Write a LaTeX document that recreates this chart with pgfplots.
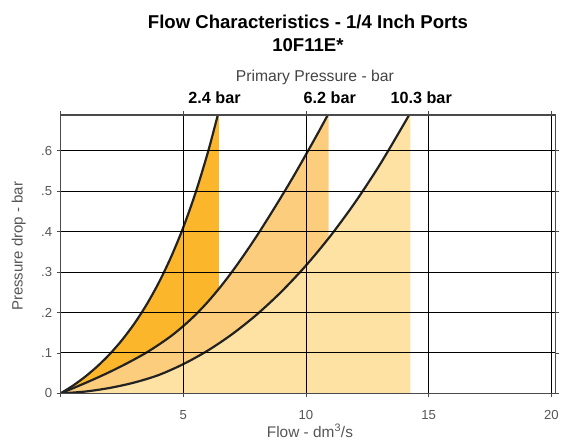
\documentclass[border=0pt]{standalone}
\usepackage{pgfplots}
\pgfplotsset{compat=1.18}
\usepackage{pgfplotstable}
\usepackage{fontspec}
\setmainfont{Liberation Sans}
\definecolor{darkor}{HTML}{FBB62B}
\definecolor{medor}{HTML}{FDCD7E}
\definecolor{lightor}{HTML}{FEE2A4}
\definecolor{txtgray}{HTML}{555555}
\definecolor{framegray}{HTML}{4A4A4A}
\definecolor{curvec}{HTML}{222222}

% 2.4 bar
\pgfplotstableread{
x y
0 0
0.5 0.0191
1.0 0.0413
1.5 0.0671
2.0 0.0970
2.5 0.1318
3.0 0.1722
3.5 0.2192
4.0 0.2738
4.5 0.3372
5.0 0.4108
5.5 0.4964
6.0 0.5959
6.41 0.6894
6.45 0.6992
}\lowp

% 6.2 bar
\pgfplotstableread{
x y
0 0
0.5 0.0126
1.0 0.0255
1.5 0.0389
2.0 0.0530
2.5 0.0680
3.0 0.0840
3.5 0.1010
4.0 0.1205
4.5 0.1418
5.0 0.1665
5.5 0.1945
6.0 0.2265
6.5 0.2625
7.0 0.3020
7.5 0.3448
8.0 0.3900
8.5 0.4378
9.0 0.4870
9.5 0.5378
10.0 0.5910
10.5 0.6453
10.89 0.6890
10.92 0.6925
}\midp

% 10.3 bar
\pgfplotstableread{
x y
0 0
1 0.0045
2 0.0135
3 0.0268
4 0.0455
5 0.0724
6 0.1060
7 0.1469
8 0.1953
9 0.2517
10 0.3163
11 0.3898
12 0.4724
13 0.5648
14 0.6673
14.2 0.6890
14.25 0.6946
}\highp

\begin{document}
\begin{tikzpicture}
\begin{axis}[
  at={(0pt,0pt)}, anchor=south west,
  scale only axis, width=498pt, height=280pt,
  xmin=0, xmax=20.16, ymin=0, ymax=0.688,
  xtick={0,5,10,15,20}, xticklabels={,5,10,15,20},
  ytick={0,0.1,0.2,0.3,0.4,0.5,0.6}, yticklabels={0,.1,.2,.3,.4,.5,.6},
  grid=major, major grid style={black, line width=1pt},
  tick align=outside, major tick length=4pt,
  tick style={framegray, line width=0.9pt},
  axis line style={framegray, line width=1.6pt},
  axis on top,
  ticklabel style={font=\fontsize{13.2}{15}\selectfont, text=txtgray},
  xticklabel style={yshift=-10pt},
  yticklabel style={xshift=-1pt},
  /pgf/number format/assume math mode=true,
]
\addplot[fill=darkor, draw=none, smooth] table {\lowp} \closedcycle;
\addplot[fill=medor, draw=none, smooth] table {\midp} \closedcycle;
\addplot[fill=lightor, draw=none, smooth] table {\highp} \closedcycle;
\addplot[curvec, line width=2.2pt, smooth] table {\lowp};
\addplot[curvec, line width=2.2pt, smooth] table {\midp};
\addplot[curvec, line width=2.2pt, smooth] table {\highp};
\end{axis}
\node[anchor=base, font=\bfseries\fontsize{18.7}{20}\selectfont, text=black] at (249pt,367pt) {Flow Characteristics - 1/4 Inch Ports};
\node[anchor=base, font=\bfseries\fontsize{18.7}{20}\selectfont, text=black] at (249pt,344.3pt) {10F11E*};
\node[anchor=base, font=\fontsize{15.8}{18}\selectfont, text=txtgray!80!black] at (256pt,314.3pt) {Primary Pressure - bar};
\node[anchor=base, font=\bfseries\fontsize{16.3}{18}\selectfont] at (155pt,292pt) {2.4 bar};
\node[anchor=base, font=\bfseries\fontsize{16.3}{18}\selectfont] at (271pt,292pt) {6.2 bar};
\node[anchor=base, font=\bfseries\fontsize{16.3}{18}\selectfont] at (363pt,292pt) {10.3 bar};
\node[anchor=base, font=\fontsize{15.5}{18}\selectfont, text=txtgray] at (251pt,-44pt) {Flow - dm\textsuperscript{3}/s};
\node[anchor=base, rotate=90, font=\fontsize{15.1}{18}\selectfont, text=txtgray] at (-38.3pt,148pt) {Pressure drop - bar};
\path[use as bounding box] (-61pt,-47pt) rectangle (501pt,396pt);
\end{tikzpicture}
\end{document}
